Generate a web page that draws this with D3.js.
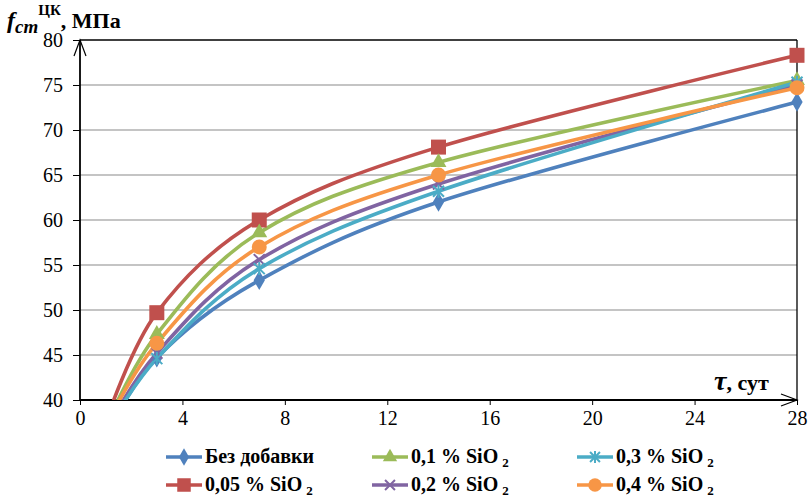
<!DOCTYPE html>
<html><head><meta charset="utf-8">
<script src="https://cdn.jsdelivr.net/npm/d3@7"></script>
<style>body{margin:0;background:#fff}svg{display:block}svg text{font-family:'Liberation Serif','Times New Roman',serif !important}</style>
</head><body><svg id="c" width="809" height="498"></svg>
<script>
const days = [1, 3, 7, 14, 28];
const seriesNames = ["Без добавки", "0,05 % SiO", "0,1 % SiO", "0,2 % SiO", "0,3 % SiO", "0,4 % SiO"];
const bezDobavki = [36.0, 44.7, 53.3, 62.0, 73.1];
const sio005 = [37.5, 49.7, 60.0, 68.1, 78.3];
const sio01 = [37.0, 47.3, 58.6, 66.4, 75.5];
const sio02 = [36.5, 45.2, 55.6, 64.0, 75.0];
const sio03 = [36.3, 44.6, 54.6, 63.2, 75.3];
const sio04 = [37.0, 46.3, 57.0, 65.0, 74.7];
const xTicks = [0, 4, 8, 12, 16, 20, 24, 28];
const yTicks = [40, 45, 50, 55, 60, 65, 70, 75, 80];

const series = [
  {name: seriesNames[0], vals: bezDobavki, color: "#4F81BD", marker: "diamond", sub: false},
  {name: seriesNames[1], vals: sio005, color: "#C0504D", marker: "square", sub: true},
  {name: seriesNames[2], vals: sio01, color: "#9BBB59", marker: "triangle", sub: true},
  {name: seriesNames[3], vals: sio02, color: "#8064A2", marker: "x", sub: true},
  {name: seriesNames[4], vals: sio03, color: "#4BACC6", marker: "star", sub: true},
  {name: seriesNames[5], vals: sio04, color: "#F79646", marker: "circle", sub: true}
];

const svg = d3.select("#c");
const L = 80, R = 797, T = 40, B = 400;
const x = d3.scaleLinear().domain([0, 28]).range([L, R]);
const y = d3.scaleLinear().domain([40, 80]).range([B, T]);

// gridlines
svg.append("g").selectAll("line").data(yTicks.filter(v => v > 40 && v < 80)).join("line")
  .attr("x1", L).attr("x2", R).attr("y1", d => y(d)).attr("y2", d => y(d))
  .attr("stroke", "#8a8a8a").attr("stroke-width", 1.2);

// top & right border
svg.append("line").attr("x1", L).attr("x2", R).attr("y1", y(80)).attr("y2", y(80)).attr("stroke", "#000").attr("stroke-width", 1.3);
svg.append("line").attr("x1", R).attr("x2", R).attr("y1", y(80)).attr("y2", y(40)).attr("stroke", "#000").attr("stroke-width", 1.3);

// axes
const yAxis = d3.axisLeft(y).tickValues(yTicks).tickSize(7).tickPadding(10);
const gy = svg.append("g").attr("transform", `translate(${L},0)`).call(yAxis);
const xAxis = d3.axisBottom(x).tickValues(xTicks).tickSize(5).tickPadding(6);
const gx = svg.append("g").attr("transform", `translate(0,${B})`).call(xAxis);
[gx, gy].forEach(g => {
  g.attr("font-family", null).attr("font-size", 20);
  g.select(".domain").attr("stroke", "#000").attr("stroke-width", 1.8);
  g.selectAll(".tick line").attr("stroke", "#000").attr("stroke-width", 1);
  g.selectAll("text").attr("fill", "#000");
});
gy.select(".domain").attr("d", `M0,${B}V${T}`);
gx.select(".domain").attr("d", `M${L},0H${R}`);

// arrows
svg.append("path").attr("d", `M${L-6},${T+16}L${L},${T}L${L+6},${T+16}`).attr("fill", "none").attr("stroke", "#000").attr("stroke-width", 1.2);
svg.append("path").attr("d", `M${R-16},${B-6}L${R},${B}L${R-16},${B+6}`).attr("fill", "none").attr("stroke", "#000").attr("stroke-width", 1.2);

// clip vertically
svg.append("clipPath").attr("id", "clip").append("rect").attr("x", 0).attr("y", T - 20).attr("width", 809).attr("height", B - T + 20);

const line = d3.line().x((d, i) => x(days[i])).y(d => y(d)).curve(d3.curveCardinal.tension(0));
const plot = svg.append("g").attr("clip-path", "url(#clip)");

series.forEach(s => {
  plot.append("path").attr("d", line(s.vals)).attr("fill", "none").attr("stroke", s.color).attr("stroke-width", 3.6).attr("stroke-linejoin", "round");
});

function drawMarker(g, type, cx, cy, color, scale) {
  const k = scale || 1;
  if (type === "diamond") {
    g.append("path").attr("d", d3.symbol(d3.symbolDiamond, 110 * k * k)()).attr("transform", `translate(${cx},${cy})`).attr("fill", color);
  } else if (type === "square") {
    const a = 15 * k;
    g.append("rect").attr("x", cx - a / 2).attr("y", cy - a / 2).attr("width", a).attr("height", a).attr("fill", color);
  } else if (type === "triangle") {
    g.append("path").attr("d", d3.symbol(d3.symbolTriangle, 110 * k * k)()).attr("transform", `translate(${cx},${cy})`).attr("fill", color);
  } else if (type === "circle") {
    g.append("circle").attr("cx", cx).attr("cy", cy).attr("r", 7.5 * k).attr("fill", color);
  } else if (type === "x" || type === "star") {
    const r = 5.5 * k;
    const p = `M${cx - r},${cy - r}L${cx + r},${cy + r}M${cx - r},${cy + r}L${cx + r},${cy - r}` + (type === "star" ? `M${cx},${cy - r - 1}L${cx},${cy + r + 1}` : "");
    g.append("path").attr("d", p).attr("stroke", color).attr("stroke-width", 2).attr("fill", "none");
  }
}

series.forEach(s => {
  const g = plot.append("g");
  s.vals.forEach((v, i) => { if (v >= 40) drawMarker(g, s.marker, x(days[i]), y(v), s.color); });
});

// axis titles
const yt = svg.append("text").attr("x", 7).attr("y", 28).attr("font-weight", "bold").attr("font-size", 22).attr("fill", "#000");
yt.append("tspan").attr("font-style", "italic").attr("font-size", 24).text("f");
yt.append("tspan").attr("font-style", "italic").attr("dy", 5).attr("font-size", 19).text("cm");
yt.append("tspan").attr("dy", -18).attr("font-size", 15).text("ЦК");
yt.append("tspan").attr("dy", 13).text(", МПа");

const xt = svg.append("text").attr("x", 714).attr("y", 390).attr("font-weight", "bold").attr("font-size", 22).attr("fill", "#000");
xt.append("tspan").attr("font-style", "italic").attr("font-size", 28).text("τ");
xt.append("tspan").text(", сут");

// legend
const legendPos = [
  {col: 0, row: 0}, {col: 0, row: 1}, {col: 1, row: 0}, {col: 1, row: 1}, {col: 2, row: 0}, {col: 2, row: 1}
];
const colX = [166, 372, 577];
const rowY = [457, 485];
series.forEach((s, i) => {
  const p = legendPos[i];
  const lx = colX[p.col], ly = rowY[p.row];
  const g = svg.append("g");
  g.append("line").attr("x1", lx).attr("x2", lx + 36).attr("y1", ly).attr("y2", ly).attr("stroke", s.color).attr("stroke-width", 3.6);
  drawMarker(g, s.marker, lx + 18, ly, s.color, 0.9);
  const t = g.append("text").attr("x", lx + 39).attr("y", ly + 6).attr("font-weight", "bold").attr("font-size", 20).attr("fill", "#000");
  t.append("tspan").text(s.name);
  if (s.sub) t.append("tspan").attr("dx", 4).attr("dy", 4).attr("font-size", 13).text("2");
});
</script></body></html>
